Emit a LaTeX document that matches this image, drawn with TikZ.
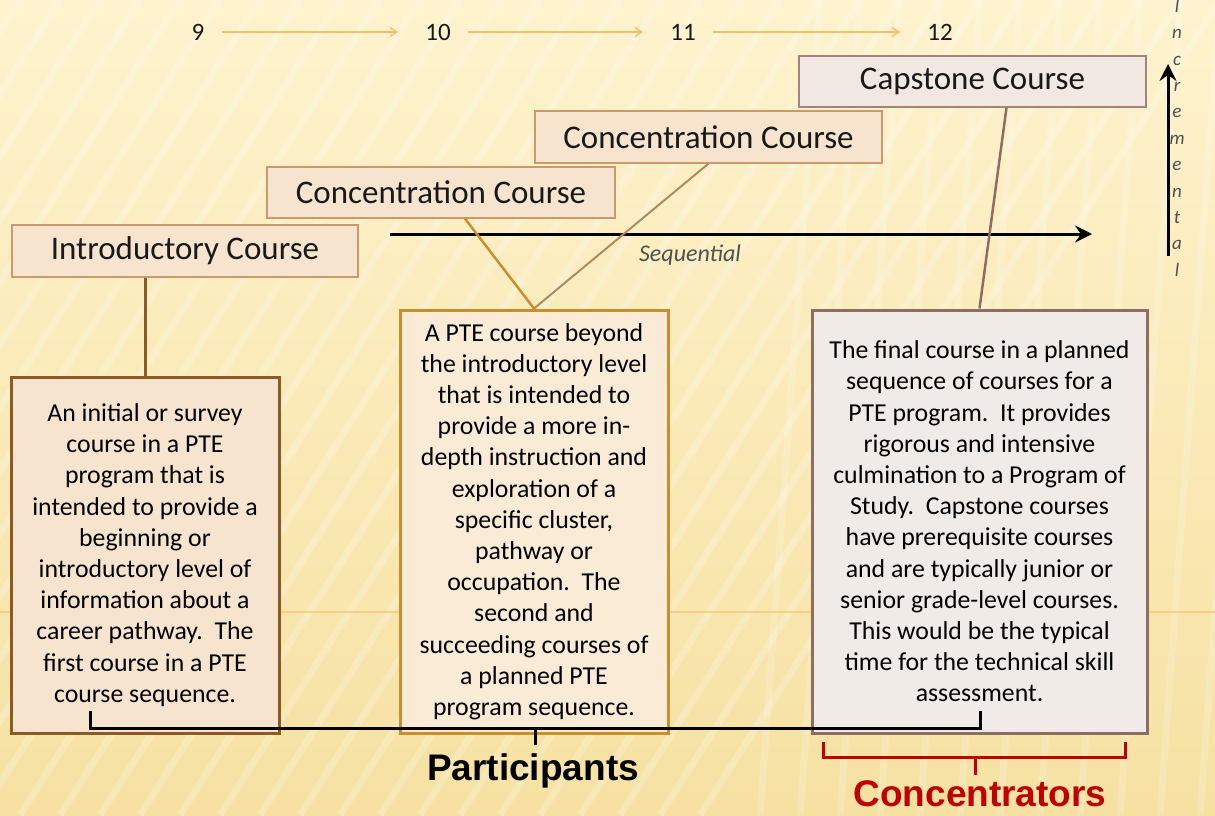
\documentclass[tikz,border=0pt]{standalone}
\usepackage{fontspec}
\setmainfont{Carlito}
\newfontfamily\arialf{Liberation Sans}
\usetikzlibrary{arrows.meta,calc}
\definecolor{bgtop}{HTML}{FEF3CE}
\definecolor{bgbot}{HTML}{F6E1A2}
\definecolor{numor}{HTML}{F2C06A}
\definecolor{introfill}{HTML}{F6E4CF}
\definecolor{introdraw}{HTML}{C99A6E}
\definecolor{capfill}{HTML}{F1E7E3}
\definecolor{capdraw}{HTML}{A28578}
\definecolor{brownA}{HTML}{8C5A24}
\definecolor{goldB}{HTML}{C98F2E}
\definecolor{tanC}{HTML}{B08A62}
\definecolor{mauveD}{HTML}{8E6E62}
\definecolor{fillA}{HTML}{F6E4CE}
\definecolor{fillB}{HTML}{FAEBD7}
\definecolor{fillD}{HTML}{F1EBE7}
\definecolor{redC}{HTML}{C00000}
\definecolor{grayt}{HTML}{505050}
\begin{document}
\begin{tikzpicture}[x=1pt,y=-1pt,
  titlebox/.style={draw=introdraw,fill=introfill,line width=1.2pt,inner sep=0pt,
    font=\fontsize{33}{36}\selectfont,text=black!90},
  defbox/.style={line width=3pt,inner sep=0pt,align=center,
    font=\fontsize{25.8}{31.2}\selectfont,text=black},
  numlab/.style={inner sep=0pt,font=\fontsize{25}{27}\selectfont,text=black!90},
  numarrow/.style={numor,line width=1.4pt,-{Straight Barb[length=7pt,width=9pt]},
    shorten <=17pt,shorten >=27pt},
  blackarrow/.style={black,line width=3pt,-{Stealth[length=17pt,width=17pt,inset=6pt]}},
  bracketline/.style={line width=3pt,line cap=butt,line join=miter}
]
\useasboundingbox (0,0) rectangle (1215,815);
% background
\shade[top color=bgtop,bottom color=bgbot] (0,0) rectangle (1215,815);
\begin{scope}
\clip (0,0) rectangle (1215,815);
\foreach \i in {-900,-860,...,700}
  \draw[white,opacity=0.22,line width=7pt] (\i,815) -- (\i+520,0);
\foreach \i in {760,800,...,1215}
  \draw[white,opacity=0.18,line width=7pt] (\i,815) -- (\i+60,0);
\end{scope}
\draw[numor,opacity=0.6,line width=1.5pt] (0,612) -- (1215,612);

% grade numbers
\node[numlab] (n9) at (198,32) {9};
\node[numlab] (n10) at (438,32) {10};
\node[numlab] (n11) at (683,32) {11};
\node[numlab] (n12) at (940,32) {12};
\draw[numarrow] (n9.east) -- (n10.west);
\draw[numarrow] (n10.east) -- (n11.west);
\draw[numarrow] (n11.east) -- (n12.west);

% course title boxes
\node[titlebox,minimum width=346pt,minimum height=52pt] (intro) at (185,251) {Introductory Course};
\node[titlebox,minimum width=348pt,minimum height=51pt] (conc1) at (441,192.5) {Concentration Course};
\node[titlebox,minimum width=347pt,minimum height=52pt] (conc2) at (708.5,137) {Concentration Course};
\node[titlebox,draw=capdraw,fill=capfill,minimum width=347pt,minimum height=51pt] (cap) at (972.5,81.5) {Capstone Course};

% sequential arrow
\coordinate (seqs) at (390,234);
\coordinate (seqe) at (1092,234);
\draw[blackarrow] (seqs) -- (seqe);
\node[font=\fontsize{24}{26}\selectfont\itshape,text=grayt] (seqlab) at (690,255) {Sequential};

% incremental arrow
\coordinate (incs) at (1168,256);
\coordinate (ince) at (1168,64);
\draw[blackarrow] (incs) -- (ince);
\node[font=\fontsize{19}{26.4}\selectfont\itshape,text=grayt,align=center,inner sep=0pt,anchor=north] (inclab) at (1177,0)
  {I\\n\\c\\r\\e\\m\\e\\n\\t\\a\\l};

% definition boxes
\node[defbox,draw=brownA,fill=fillA,minimum width=268pt,minimum height=356pt] (def1) at (145,555)
  {An initial or survey\\course in a PTE\\program that is\\intended to provide a\\beginning or\\introductory level of\\information about a\\career pathway.\ \ The\\first course in a PTE\\course sequence.};
\node[defbox,draw=goldB,fill=fillB,minimum width=268pt,minimum height=423pt] (def2) at (534,521.5)
  {A PTE course beyond\\the introductory level\\that is intended to\\provide a more in-\\depth instruction and\\exploration of a\\specific cluster,\\pathway or\\occupation.\ \ The\\second and\\succeeding courses of\\a planned PTE\\program sequence.};
\node[defbox,draw=mauveD,fill=fillD,minimum width=335pt,minimum height=423pt] (def3) at (979.5,521.5)
  {The final course in a planned\\sequence of courses for a\\PTE program.\ \ It provides\\rigorous and intensive\\culmination to a Program of\\Study.\ \ Capstone courses\\have prerequisite courses\\and are typically junior or\\senior grade-level courses.\\This would be the typical\\time for the technical skill\\assessment.};

% connectors
\draw[brownA,line width=3pt] (intro.south -| def1.north) -- (def1.north);
\draw[goldB,line width=2.5pt] ([xshift=24pt]conc1.south) -- (def2.north);
\draw[tanC,line width=2pt] (conc2.south) -- (def2.north);
\draw[mauveD,line width=2.5pt] ([xshift=34pt]cap.south) -- (def3.north);

% participants bracket
\coordinate (pa) at (90,711);
\coordinate (pb) at (980,711);
\coordinate (pm) at (535,728);
\draw[bracketline,black] (pa) -- (pa |- pm) -- (pb |- pm) -- (pb);
\draw[bracketline,black] (pm) -- ++(0,17);
\node[font=\arialf\bfseries\fontsize{37}{40}\selectfont,text=black] (part) at (533,771) {Participants};

% concentrators bracket
\coordinate (ca) at (823,742);
\coordinate (cb) at (1125,742);
\coordinate (cm) at (975,757);
\draw[bracketline,redC] (ca) -- (ca |- cm) -- (cb |- cm) -- (cb);
\draw[bracketline,redC] (cm) -- ++(0,18);
\node[font=\arialf\bfseries\fontsize{37}{40}\selectfont,text=redC] (conc) at (980,794) {Concentrators};
\end{tikzpicture}
\end{document}
